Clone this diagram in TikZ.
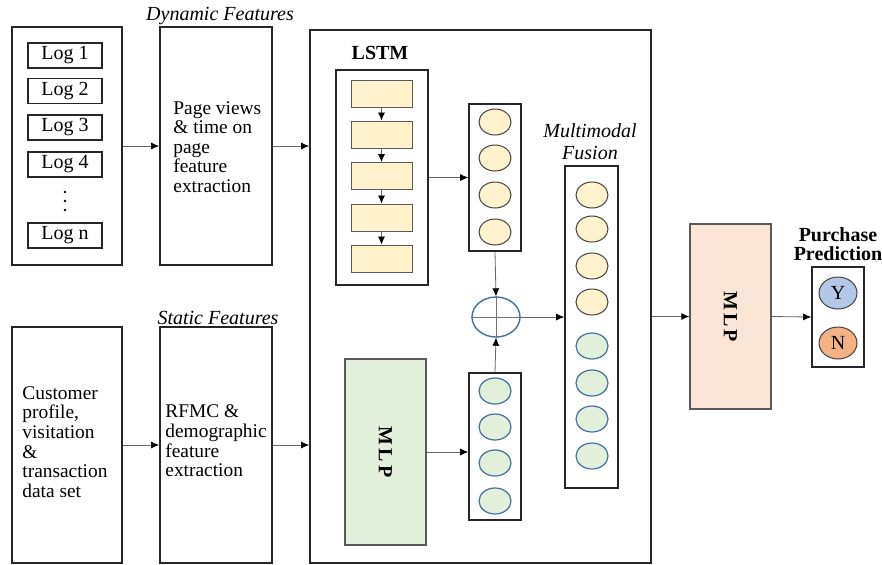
\documentclass[tikz,border=0pt]{standalone}
\usepackage{fontspec}
\setmainfont{Liberation Serif}
\usetikzlibrary{arrows.meta,shapes.geometric,calc}
\definecolor{ylw}{HTML}{FFF2CC}
\definecolor{grn}{HTML}{E2EFDA}
\definecolor{pnk}{HTML}{FBE5D6}
\definecolor{bluefill}{HTML}{B4C7E7}
\definecolor{orgfill}{HTML}{F4B183}
\definecolor{blueline}{HTML}{41719C}
\tikzset{
  bigbox/.style={draw=black!85, line width=0.9pt, minimum width=#1pt},
  logbox/.style={draw=black!85, line width=0.6pt, minimum width=37pt, minimum height=12.5pt, inner sep=0pt},
  cell/.style={draw=black!65, fill=ylw, line width=0.5pt, minimum width=30.5pt, minimum height=13.5pt, inner sep=0pt},
  colbox/.style={draw=black!85, line width=0.8pt, minimum width=26pt, inner sep=0pt},
  yell/.style={ellipse, draw=black!75, fill=ylw, line width=0.5pt, minimum width=16pt, minimum height=13pt, inner sep=0pt},
  gell/.style={ellipse, draw=blueline, fill=grn, line width=0.6pt, minimum width=16pt, minimum height=13pt, inner sep=0pt},
  arr/.style={draw=black!60, line width=0.4pt, -{Latex[length=4pt,width=3.5pt,black]}},
  txt/.style={font=\fontsize{9.7}{9.8}\selectfont, align=left, inner sep=0pt},
  lbl/.style={font=\fontsize{10}{11}\selectfont\itshape, align=center, inner sep=0pt},
  blbl/.style={font=\fontsize{10}{9.5}\selectfont\bfseries, align=center, inner sep=0pt},
  mlp/.style={draw=black!65, line width=0.6pt, font=\fontsize{10}{12}\selectfont\bfseries},
  dotc/.style={circle, fill=black, minimum size=1.3pt, inner sep=0pt},
}
\begin{document}
\begin{tikzpicture}[x=0.5pt,y=-0.5pt]
\useasboundingbox (0,0) rectangle (882,564);
% left column: dynamic
\node[bigbox=55, minimum height=119pt] (logs) at (67,146) {};
\node[logbox] (l1) at (65,55.5) {Log 1};
\node[logbox] (l2) at (65,91) {Log 2};
\node[logbox] (l3) at (65,127.5) {Log 3};
\node[logbox] (l4) at (65,164.5) {Log 4};
\node[dotc] (d1) at (65,192) {};
\node[dotc] (d2) at (65,201) {};
\node[dotc] (d3) at (65,210) {};
\node[logbox] (ln) at (65,235.5) {Log n};
\node[bigbox=56, minimum height=119pt] (dyn) at (216,146) {};
\node[lbl] (dynl) at (220,16) {Dynamic Features};
\node[txt, anchor=west] (dynt) at (173,147) {Page views\\\& time on\\page\\feature\\extraction};
% static
\node[bigbox=55, minimum height=118pt] (cust) at (67,445) {};
\node[txt, anchor=west] (custt) at (22,442) {Customer\\profile,\\visitation\\\&\\transaction\\data set};
\node[bigbox=56, minimum height=118pt] (stat) at (216,445) {};
\node[lbl] (statl) at (218,318) {Static Features};
\node[txt, anchor=west] (statt) at (165,441) {RFMC \&\\demographic\\feature\\extraction};
% big box
\node[bigbox=170.5, minimum height=266.5pt] (big) at (480.5,296.5) {};
\node[blbl] (lstml) at (380,53) {LSTM};
\node[bigbox=46, minimum height=107.5pt, line width=0.8pt] (lstm) at (382,177.5) {};
\node[cell] (c1) at (381.5,93.5) {};
\node[cell] (c2) at (381.5,134.5) {};
\node[cell] (c3) at (381.5,176) {};
\node[cell] (c4) at (381.5,217.5) {};
\node[cell] (c5) at (381.5,258.5) {};
\foreach \a/\b in {c1/c2,c2/c3,c3/c4,c4/c5} \draw[arr] (\a.south) -- (\b.north);
\node[colbox, minimum height=73.5pt] (tcol) at (495,177.5) {};
\node[yell] (t1) at (495,122) {};
\node[yell] (t2) at (495,158) {};
\node[yell] (t3) at (495,195) {};
\node[yell] (t4) at (495,232) {};
\node[ellipse, draw=blueline, line width=0.7pt, minimum width=24pt, minimum height=20pt, inner sep=0pt] (oplus) at (496,317) {};
\draw[black!55, line width=0.4pt] (oplus.west) -- (oplus.east);
\draw[black!55, line width=0.4pt] (oplus.north) -- (oplus.south);
\node[mlp, fill=grn, minimum width=40.5pt, minimum height=93pt] (gmlp) at (385.5,452) {\rotatebox{-90}{M\kern1.5pt L\kern1.5pt P}};
\node[colbox, minimum height=73.5pt] (gcol) at (495,446.5) {};
\node[gell] (g1) at (495,391) {};
\node[gell] (g2) at (495,427) {};
\node[gell] (g3) at (495,463) {};
\node[gell] (g4) at (495,501) {};
\node[lbl] (mml) at (590,142) {Multimodal\\Fusion};
\node[colbox, minimum width=26.5pt, minimum height=161pt] (mm) at (591.5,327) {};
\node[yell] (m1) at (592,195) {};
\node[yell] (m2) at (592,229) {};
\node[yell] (m3) at (592,266) {};
\node[yell] (m4) at (592,302) {};
\node[gell] (m5) at (592,346) {};
\node[gell] (m6) at (592,383) {};
\node[gell] (m7) at (592,419) {};
\node[gell] (m8) at (592,456) {};
% right
\node[mlp, fill=pnk, minimum width=40.5pt, minimum height=92.5pt] (pmlp) at (730.5,316.5) {\rotatebox{-90}{M\kern1.5pt L\kern1.5pt P}};
\node[blbl] (predl) at (838,244) {Purchase\\Prediction};
\node[colbox, minimum height=50pt] (pred) at (838,317) {};
\node[ellipse, draw=black!75, fill=bluefill, line width=0.5pt, minimum width=19pt, minimum height=16pt, inner sep=0pt, font=\fontsize{10}{12}\selectfont] (py) at (838,293) {Y};
\node[ellipse, draw=black!75, fill=orgfill, line width=0.5pt, minimum width=19pt, minimum height=16pt, inner sep=0pt, font=\fontsize{10}{12}\selectfont] (pn) at (838,343) {N};
% connectors
\draw[arr] (logs.east) -- (dyn.west);
\draw[arr] (dyn.east) -- (dyn.east -| big.west);
\draw[arr] (cust.east) -- (stat.west);
\draw[arr] (stat.east) -- (stat.east -| big.west);
\draw[arr] (lstm.east) -- (tcol.west);
\draw[arr] (tcol.south) -- (oplus.north);
\draw[arr] (gcol.north) -- (oplus.south);
\draw[arr] (gmlp.east) -- (gmlp.east -| gcol.west);
\draw[arr] (oplus.east) -- (oplus.east -| mm.west);
\draw[arr] (pmlp.west -| big.east) -- (pmlp.west);
\draw[arr] (pmlp.east) -- (pred.west);
\end{tikzpicture}
\end{document}
